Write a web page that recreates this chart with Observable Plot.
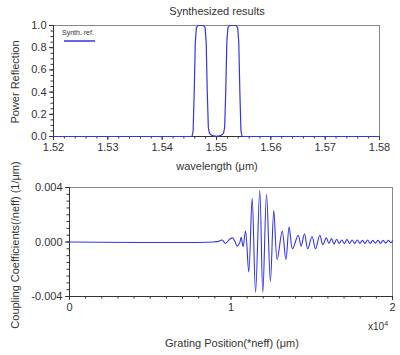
<!DOCTYPE html>
<html><head><meta charset="utf-8">
<script src="https://cdn.jsdelivr.net/npm/d3@7"></script>
<script src="https://cdn.jsdelivr.net/npm/@observablehq/plot@0.6"></script>
<style>
body{margin:0;background:#fff;font-family:"Liberation Sans",Arial,sans-serif;color:#333}
#wrap{position:relative;width:400px;height:355px;overflow:hidden;background:#fff}
#wrap svg{position:absolute;left:0}
.lbl{position:absolute;font-size:11px;white-space:nowrap;color:#333;line-height:1}
.rot{transform:translate(-50%,-50%) rotate(-90deg)}
.ctr{transform:translate(-50%,-50%)}
</style></head><body><div id="wrap">
<div class="lbl ctr" style="left:217px;top:11px">Synthesized results</div>
<div class="lbl ctr" style="left:217px;top:166px">wavelength (μm)</div>
<div class="lbl rot" style="left:15px;top:82px">Power Reflection</div>
<div class="lbl rot" style="left:15px;top:245px">Coupling Coefficients(/neff) (1/μm)</div>
<div class="lbl ctr" style="left:232px;top:343px">Grating Position(*neff) (μm)</div>
<div class="lbl" style="left:368px;top:320px;font-size:10px">x10<sup style="font-size:7px">4</sup></div>
<div class="lbl" style="left:62px;top:29px;font-size:7px">Synth. ref.</div>
</div>
<script>
// ---- top chart: power reflection vs wavelength (µm)
const wavelength = [1.52, 1.5455, 1.5457, 1.5459, 1.5461, 1.5463, 1.5466, 1.5470, 1.5476, 1.5479, 1.5481, 1.5483, 1.5485, 1.5487, 1.5490, 1.5495, 1.5500, 1.5505, 1.5510, 1.5513, 1.5515, 1.5517, 1.5519, 1.5521, 1.5524, 1.5530, 1.5536, 1.5539, 1.5541, 1.5543, 1.5545, 1.5547, 1.58];
const reflection = [0, 0, 0.05, 0.4, 0.85, 0.98, 1, 1, 1, 0.98, 0.85, 0.4, 0.08, 0.03, 0.015, 0.005, 0.002, 0.005, 0.015, 0.03, 0.08, 0.4, 0.85, 0.98, 1, 1, 1, 0.98, 0.85, 0.4, 0.05, 0, 0];
const topXTicks = [1.52, 1.53, 1.54, 1.55, 1.56, 1.57, 1.58];
const topYTicks = [0, 0.2, 0.4, 0.6, 0.8, 1.0];

// ---- bottom chart: coupling coefficient vs grating position (x10^4 µm)
const position = [0, 0.89, 0.905, 0.92, 0.945, 0.966, 0.985, 0.997, 1.011, 1.024, 1.038, 1.053, 1.063, 1.075, 1.090, 1.110, 1.131, 1.152, 1.178, 1.197, 1.220, 1.244, 1.265, 1.286, 1.317, 1.340, 1.360, 1.381, 1.416, 1.434, 1.455, 1.475, 1.502, 1.523, 1.550, 1.569, 1.590, 1.606, 1.622, 1.638, 1.654, 1.670, 1.686, 1.702, 1.718, 1.734, 1.750, 1.766, 1.782, 1.798, 1.814, 1.830, 1.846, 1.862, 1.878, 1.894, 1.910, 1.926, 1.942, 1.958, 1.974, 1.990, 2.0];
const coupling = [0, 0, 0.00003, 0.00003, 0.00015, -0.0001, 0.00012, 0.00025, 0.0003, 0.00005, -0.0003, -0.0001, 0.00035, -0.00035, 0.0008, -0.0022, 0.0032, -0.0037, 0.0038, -0.0037, 0.0035, -0.0029, 0.0023, -0.0013, 0.0008, -0.0013, 0.0011, -0.0005, 0.0005, -0.0003, 0.0006, -0.0005, 0.0004, -0.0005, 0.0005, -0.0002, 0.0003, -0.0001, 0.00025, -0.00015, 0.0002, -0.0001, 0.00015, -0.00012, 0.00018, -0.0001, 0.00015, -0.0001, 0.00015, -0.0001, 0.00012, -0.0001, 0.00015, -0.0001, 0.00012, -0.00008, 0.00012, -0.0001, 0.00012, -0.00008, 0.00012, -0.00005, 0.0001];
const botXTicks = [0, 1, 2];
const botYTicks = [-0.004, 0, 0.004];

const lineColor = "#3535e8";
const wrap = document.getElementById("wrap");
const blank = () => "";
const style = {fontFamily: "'Liberation Sans', Arial, sans-serif", fontSize: "11px", color: "#333", background: "transparent"};

const topData = wavelength.map((w, i) => ({w, r: reflection[i]}));
const topMinorX = d3.range(0, 31).map(i => 1.52 + i * 0.002);
const topMinorY = d3.range(0, 21).map(i => i * 0.05);

const topPlot = Plot.plot({
  width: 400, height: 175,
  marginTop: 25, marginBottom: 39, marginLeft: 53, marginRight: 21,
  style,
  x: {domain: [1.52, 1.58]},
  y: {domain: [0, 1]},
  marks: [
    Plot.frame({stroke: "#888"}),
    Plot.axisX({ticks: topMinorX, tickSize: 2.5, tickFormat: blank, label: null, stroke: "#333"}),
    Plot.axisX({ticks: topXTicks, tickSize: 4, tickPadding: 3, tickFormat: d => d.toFixed(2), label: null, stroke: "#333"}),
    Plot.axisY({ticks: topMinorY, tickSize: 2.5, tickFormat: blank, label: null, stroke: "#333"}),
    Plot.axisY({ticks: topYTicks, tickSize: 4, tickPadding: 3, tickFormat: d => d.toFixed(1), label: null, stroke: "#333"}),
    Plot.ruleY([0], {stroke: "#333"}),
    Plot.ruleX([1.52], {stroke: "#333"}),
    Plot.line(topData, {x: "w", y: "r", stroke: lineColor, strokeWidth: 1.2})
  ]
});
topPlot.style.top = "0px";
wrap.appendChild(topPlot);

// legend sample line (legend is added beside the plot)
const legendSvg = d3.create("svg").attr("width", 40).attr("height", 6)
  .style("position", "absolute").style("left", "60px").style("top", "38px");
legendSvg.append("line").attr("x1", 4).attr("x2", 35).attr("y1", 3).attr("y2", 3)
  .attr("stroke", lineColor).attr("stroke-width", 1.5);
wrap.appendChild(legendSvg.node());

const botData = position.map((p, i) => ({p, c: coupling[i]}));
const botMinorX = d3.range(0, 21).map(i => i * 0.1);
const botMinorY = d3.range(0, 17).map(i => -0.004 + i * 0.0005);

const botPlot = Plot.plot({
  width: 400, height: 180,
  marginTop: 12, marginBottom: 59, marginLeft: 69, marginRight: 8,
  style,
  x: {domain: [0, 2]},
  y: {domain: [-0.004, 0.004]},
  marks: [
    Plot.frame({stroke: "#888"}),
    Plot.axisX({ticks: botMinorX, tickSize: 2.5, tickFormat: blank, label: null, stroke: "#333"}),
    Plot.axisX({ticks: botXTicks, tickSize: 4, tickPadding: 3, tickFormat: d => String(d), label: null, stroke: "#333"}),
    Plot.axisY({ticks: botMinorY, tickSize: 2.5, tickFormat: blank, label: null, stroke: "#333"}),
    Plot.axisY({ticks: botYTicks, tickSize: 4, tickPadding: 3, tickFormat: d => d.toFixed(3), label: null, stroke: "#333"}),
    Plot.ruleY([-0.004], {stroke: "#333"}),
    Plot.ruleX([0], {stroke: "#333"}),
    Plot.line(botData, {x: "p", y: "c", stroke: lineColor, strokeWidth: 1.1, curve: "catmull-rom"})
  ]
});
botPlot.style.top = "175px";
wrap.appendChild(botPlot);
</script>
</body></html>
